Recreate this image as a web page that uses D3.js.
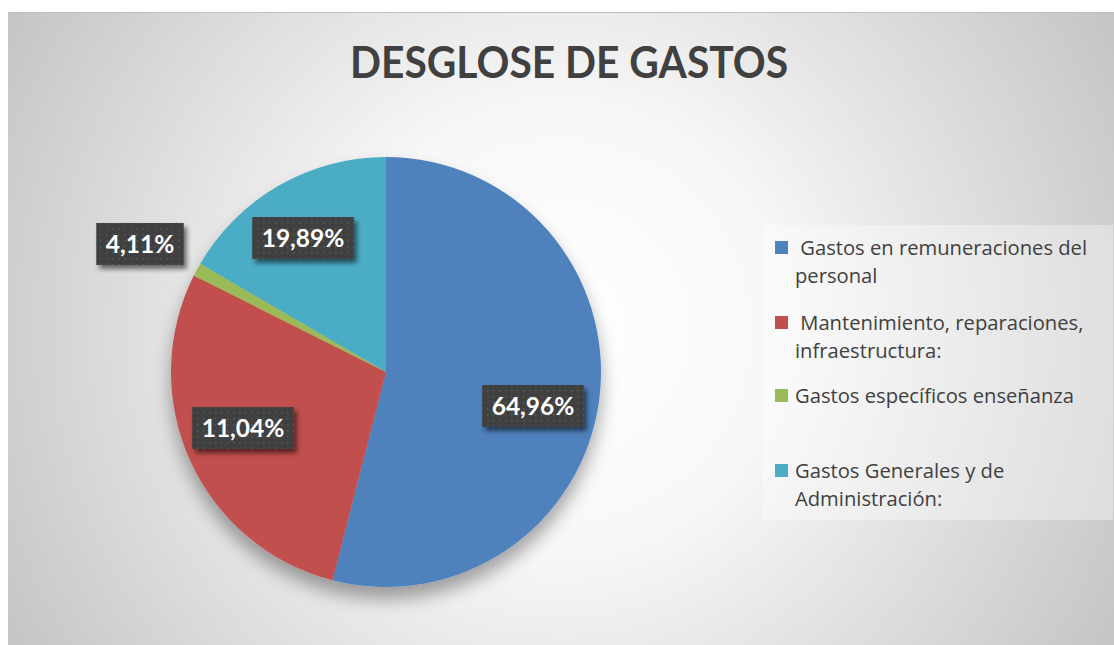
<!DOCTYPE html>
<html>
<head>
<meta charset="utf-8">
<script src="https://cdn.jsdelivr.net/npm/d3@7"></script>
<style>
html,body{margin:0;padding:0;background:#fff;}
svg{display:block;}
</style>
</head>
<body>
<svg id="chart" width="1114" height="645"></svg>
<script>
// ---- data ----
const categories = [
  "Gastos en remuneraciones del personal",
  "Mantenimiento, reparaciones, infraestructura:",
  "Gastos específicos enseñanza",
  "Gastos Generales y de Administración:"
];
// slice sizes as drawn in the picture (percent of circle)
const sliceValues = [54.0, 28.4, 1.0, 16.6];
// data label texts as printed on the chart
const labelTexts = ["64,96%", "11,04%", "4,11%", "19,89%"];
const legendLines = [
  [" Gastos en remuneraciones del", "personal"],
  [" Mantenimiento, reparaciones,", "infraestructura:"],
  ["Gastos específicos enseñanza"],
  ["Gastos Generales y de", "Administración:"]
];
const colors = ["#4f81bd", "#c0504d", "#9bbb59", "#4bacc6"];
const title = "DESGLOSE DE GASTOS";

// ---- drawing ----
const svg = d3.select("#chart");
const defs = svg.append("defs");

const bg = defs.append("radialGradient").attr("id", "bg")
  .attr("gradientUnits", "userSpaceOnUse")
  .attr("cx", 560).attr("cy", 330).attr("r", 640);
bg.append("stop").attr("offset", "0").attr("stop-color", "#ffffff");
bg.append("stop").attr("offset", "0.35").attr("stop-color", "#f7f7f7");
bg.append("stop").attr("offset", "1").attr("stop-color", "#c4c4c4");

const sh = defs.append("filter").attr("id", "pieShadow")
  .attr("x", "-20%").attr("y", "-20%").attr("width", "140%").attr("height", "150%");
sh.append("feGaussianBlur").attr("in", "SourceAlpha").attr("stdDeviation", 9).attr("result", "b");
sh.append("feOffset").attr("in", "b").attr("dx", 0).attr("dy", 12).attr("result", "o");
sh.append("feComponentTransfer").attr("in", "o").attr("result", "o2")
  .append("feFuncA").attr("type", "linear").attr("slope", 0.35);
const m = sh.append("feMerge");
m.append("feMergeNode").attr("in", "o2");
m.append("feMergeNode").attr("in", "SourceGraphic");

const ls = defs.append("filter").attr("id", "lblShadow")
  .attr("x", "-20%").attr("y", "-30%").attr("width", "150%").attr("height", "180%");
ls.append("feGaussianBlur").attr("in", "SourceAlpha").attr("stdDeviation", 2.5).attr("result", "b");
ls.append("feOffset").attr("in", "b").attr("dx", 3).attr("dy", 4).attr("result", "o");
ls.append("feComponentTransfer").attr("in", "o").attr("result", "o2")
  .append("feFuncA").attr("type", "linear").attr("slope", 0.55);
const m2 = ls.append("feMerge");
m2.append("feMergeNode").attr("in", "o2");
m2.append("feMergeNode").attr("in", "SourceGraphic");

const pat = defs.append("pattern").attr("id", "dots")
  .attr("patternUnits", "userSpaceOnUse").attr("width", 6).attr("height", 6);
pat.append("rect").attr("width", 6).attr("height", 6).attr("fill", "#404040");
pat.append("rect").attr("x", 2).attr("y", 2).attr("width", 1.5).attr("height", 1.5).attr("fill", "#5a5a5a");

// chart area
svg.append("rect").attr("x", 8).attr("y", 12).attr("width", 1106).attr("height", 633)
  .attr("fill", "url(#bg)");
svg.append("line").attr("x1", 8).attr("x2", 1114).attr("y1", 12.5).attr("y2", 12.5)
  .attr("stroke", "#bfbfbf").attr("stroke-width", 1);

// title
svg.append("text").attr("x", 569).attr("y", 78)
  .attr("text-anchor", "middle")
  .attr("font-family", "Lato, 'Open Sans', sans-serif").attr("font-weight", "bold")
  .attr("font-size", 43).attr("fill", "#404040")
  .attr("textLength", 438).attr("lengthAdjust", "spacingAndGlyphs")
  .text(title);

// pie
const cx = 386, cy = 372, R = 215;
const pie = d3.pie().sort(null).value(d => d)(sliceValues);
const arc = d3.arc().innerRadius(0).outerRadius(R);
const g = svg.append("g").attr("transform", `translate(${cx},${cy})`).attr("filter", "url(#pieShadow)");
g.selectAll("path").data(pie).join("path")
  .attr("d", arc).attr("fill", (d, i) => colors[i]);

// labels
const labelPos = [[533, 406], [243, 428], [140, 244], [303, 238]];
const lg = svg.append("g");
labelTexts.forEach((t, i) => {
  const [x, y] = labelPos[i];
  const gg = lg.append("g").attr("transform", `translate(${x},${y})`);
  const txt = gg.append("text").attr("text-anchor", "middle").attr("dy", "0.36em")
    .attr("font-family", "Lato, 'Open Sans', sans-serif").attr("font-weight", "bold")
    .attr("font-size", 24.5).attr("fill", "#ffffff").text(t);
  const w = txt.node().getComputedTextLength() + 19;
  gg.insert("rect", "text").attr("x", -w / 2).attr("y", -21).attr("width", w).attr("height", 42)
    .attr("fill", "url(#dots)").attr("filter", "url(#lblShadow)");
});

// legend
svg.append("rect").attr("x", 763).attr("y", 225).attr("width", 350).attr("height", 295)
  .attr("fill", "#ffffff").attr("fill-opacity", 0.35);
const legY = [255, 330, 403, 478];
const leg = svg.append("g");
categories.forEach((c, i) => {
  leg.append("rect").attr("x", 775).attr("y", legY[i] - 14).attr("width", 13).attr("height", 13)
    .attr("fill", colors[i]);
  legendLines[i].forEach((ln, j) => {
    leg.append("text").attr("x", 795).attr("y", legY[i] + j * 28)
      .attr("font-family", "'Open Sans', Lato, sans-serif").attr("font-size", 20.2)
      .attr("fill", "#404040").attr("xml:space", "preserve")
      .style("white-space", "pre").text(ln);
  });
});
</script>
</body>
</html>
